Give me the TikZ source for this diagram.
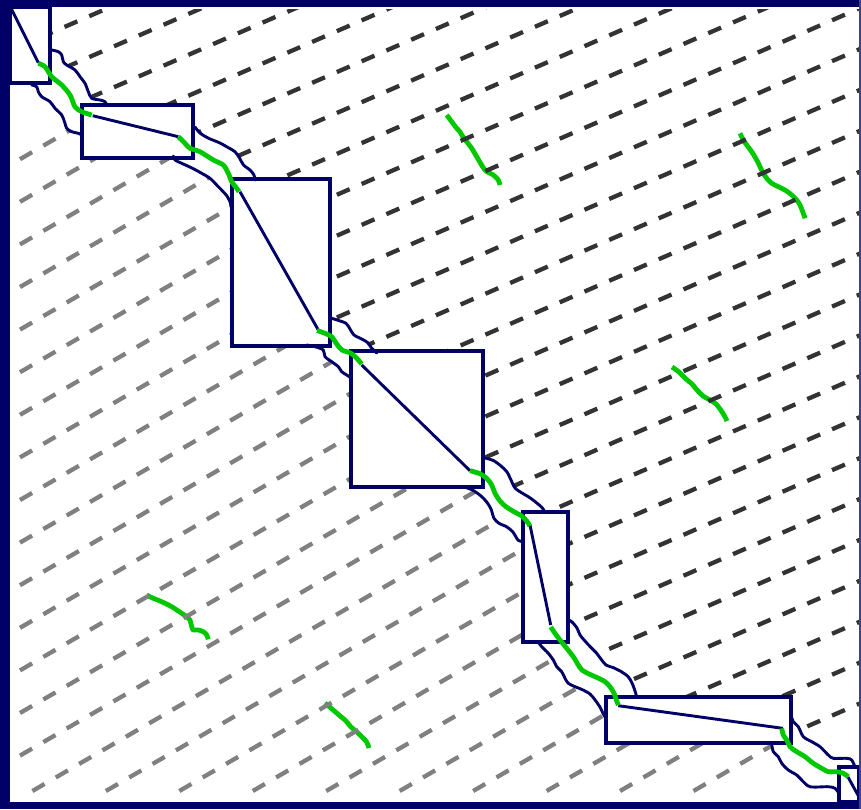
\documentclass[tikz,border=0pt]{standalone}
\definecolor{navy}{RGB}{0,0,102}
\definecolor{grn}{RGB}{0,200,0}
\definecolor{dk}{RGB}{51,51,51}
\definecolor{lg}{RGB}{128,128,128}
\tikzset{
  box/.style={draw=navy, line width=3.4pt},
  tube/.style={draw=navy, line width=2.9pt, line join=round, line cap=round},
  diag/.style={draw=navy, line width=2.9pt},
  gline/.style={draw=grn, line width=4.8pt, line join=round},
  dkdash/.style={draw=dk, line width=4.3pt, dash pattern=on 14pt off 13pt},
  lgdash/.style={draw=lg, line width=4.3pt, dash pattern=on 14pt off 13pt},
  upA/.style={insert path={-- plot[smooth,tension=0.5] coordinates {(51.7,50) (58.3,51.7) (61.7,55) (63.3,61.7) (66.7,65) (75,70) (80,76.7) (85,83.3) (88.3,91.7) (91.7,98.3) (100,100) (105,101.7) (106.7,105)}}},
  loA/.style={insert path={-- plot[smooth,tension=0.5] coordinates {(31.7,85) (36.7,86.7) (38.3,91.7) (41.7,96.7) (50,101.7) (55,108.3) (61.7,115) (65,123.3) (66.7,128.3) (71.7,131.7) (78.3,133.3) (82,135)}}},
  upB/.style={insert path={-- plot[smooth,tension=0.5] coordinates {(195,127) (200,133) (208,138) (220,143) (228,147.5) (235,151.7) (239.5,158) (243.5,165) (250,170) (254,175) (255,180)}}},
  loB/.style={insert path={-- plot[smooth,tension=0.5] coordinates {(173.3,156) (175,160) (181.7,163.3) (192.5,168.3) (201.7,173.3) (210,178.3) (216.7,185) (222.5,191) (227,196) (230,201.7) (231,206) (232,210)}}},
  upC/.style={insert path={-- plot[smooth,tension=0.5] coordinates {(331.7,318.3) (338,320.3) (346,323.3) (350,329) (354,335) (361.7,339) (367.5,342.5) (371.5,348) (376.7,353)}}},
  loC/.style={insert path={-- plot[smooth,tension=0.5] coordinates {(306.7,345) (315,346.7) (323.3,350) (325,356.7) (331.7,361.7) (338.3,366.7) (341.7,371.7) (346.7,375) (351.7,378.3)}}},
  upD/.style={insert path={-- plot[smooth,tension=0.5] coordinates {(485,458) (493.3,460.5) (501,466) (507,472) (511,480) (515,488) (522,493) (528,496.5) (533,500) (538,504) (542,507.5) (545,512)}}},
  loD/.style={insert path={-- plot[smooth,tension=0.5] coordinates {(464,487) (472.5,490) (481,496) (486.7,502) (491,509) (494,518.3) (499,523.3) (506.5,526.7) (512.5,531.5) (516,537) (518.5,540.5) (523,541.7)}}},
  upE/.style={insert path={-- plot[smooth,tension=0.5] coordinates {(569,620) (572,622) (577,628) (580,635) (585,641) (590,646.5) (596,652.5) (601,659) (606,665) (613,667.5) (621,671.5) (628,676.5) (632,683) (635,691) (636.7,697)}}},
  loE/.style={insert path={-- plot[smooth,tension=0.5] coordinates {(538.3,642) (541.7,646.7) (548.3,653.3) (553.3,660) (556.7,666.7) (561.7,671.7) (565,678.3) (568.3,683.3) (575,686.7) (582,689.5) (590,694) (595.5,700.5) (600.5,708) (603.5,714.5) (606,718.3)}}},
  upF/.style={insert path={-- plot[smooth,tension=0.5] coordinates {(791,715) (793.3,721.7) (798.3,726.7) (803.3,736.7) (811.7,741.7) (820,746.7) (828.3,755) (833.3,758.3) (846.7,758.3) (851.7,760) (855,767)}}},
  loF/.style={insert path={-- plot[smooth,tension=0.5] coordinates {(771.7,744) (773.3,751.7) (778.3,756.7) (781.7,763.3) (788.3,770) (796.7,775) (801.7,780) (810,786.7) (828.3,786.7) (835,788.3) (839,793.3)}}}
}
\begin{document}
\begin{tikzpicture}[x=1pt,y=-1pt]
\useasboundingbox (0,0) rectangle (861,809);
\fill[white] (0,0) rectangle (861,809);

% free green squiggles
\draw[gline] plot[smooth,tension=0.5] coordinates {(446.7,115) (451.7,121.7) (456.7,128.3) (460,131.7) (461.7,135) (466.7,141.7) (471.7,148.3) (476.7,156.7) (485,170) (493.3,175) (498.3,180) (500,185)};
\draw[gline] plot[smooth,tension=0.5] coordinates {(740,133.3) (743.3,140) (746.7,145) (751.7,151.7) (756.7,160) (760,166.7) (763.3,173.3) (766.7,178.3) (771.7,183.3) (778.3,186.7) (785,190) (791.7,195) (796.7,200) (800,205) (803.3,213.3) (805,218.3)};
\draw[gline] plot[smooth,tension=0.5] coordinates {(672,367) (679,372) (686,379) (692,384) (697,390) (703,396) (710,400) (716,404) (720,409) (724,415) (727,421)};
\draw[gline] plot[smooth,tension=0.5] coordinates {(146.7,595) (153.3,598.3) (161.7,601.7) (171.7,606.7) (176.7,610) (181.7,613.3) (186.7,616.7) (190,620) (191.7,626.7) (193.3,630) (198.3,630) (203.3,631.7) (206.7,635) (208.3,639.3)};
\draw[gline] plot[smooth,tension=0.5] coordinates {(325,703) (332,709) (339,715) (346,721) (351,727) (357,732) (362,737) (366,741) (368,745) (369,748)};

% dark dashed family (upper right)
\begin{scope}
\clip (50,9) -- (50,50) [upA] -- (193,105) -- (193,127) [upB] -- (330,179) -- (330,318.3) [upC] -- (483,351) -- (483,458) [upD] -- (568,512) -- (568,620) [upE] -- (791,697) -- (791,715) [upF] -- (859,767) -- (859,9) -- cycle;
\foreach \k in {0,...,25}{
  \pgfmathsetmacro{\dc}{55+40.9*\k}
  \draw[dkdash] (15,{\dc-0.435*15}) -- (870,{\dc-0.435*870});
}
\end{scope}

% grey dashed family (lower left)
\begin{scope}
\clip (8,83) -- (31.7,83) [loA] -- (82,158) -- (173.3,158) [loB] -- (232,346) -- (306.7,346) [loC] -- (351,487) -- (464,487) [loD] -- (523,642) -- (538.3,642) [loE] -- (606,743) -- (771.7,743) [loF] -- (839,805) -- (8,805) -- cycle;
\foreach \k in {0,...,24}{
  \pgfmathsetmacro{\gb}{170.8+42.6*\k}
  \pgfmathsetmacro{\gx}{max(20,(\gb-791)/0.58)}
  \draw[lgdash] (\gx,{\gb-0.58*\gx}) -- (900,{\gb-0.58*900});
}
\end{scope}

% tube walls
\draw[tube] (51.7,50) [upA];
\draw[tube] (31.7,85) [loA];
\draw[tube] (195,127) [upB];
\draw[tube] (173.3,156) [loB];
\draw[tube] (331.7,318.3) [upC];
\draw[tube] (306.7,345) [loC];
\draw[tube] (485,458) [upD];
\draw[tube] (464,487) [loD];
\draw[tube] (569,620) [upE];
\draw[tube] (538.3,642) [loE];
\draw[tube] (791,715) [upF];
\draw[tube] (771.7,744) [loF];

% boxes
\draw[box] (10,7) rectangle (50,83);
\draw[box] (82,105) rectangle (193,158);
\draw[box] (232,179) rectangle (330,346);
\draw[box] (351,351) rectangle (483,487);
\draw[box] (523,512) rectangle (568,642);
\draw[box] (606,697) rectangle (791,743);
\draw[box] (839,767) rectangle (859,802);

% diagonals inside boxes
\draw[diag] (11,8) -- (38.3,62.7);
\draw[diag] (92.7,115.7) -- (178.3,136.7);
\draw[diag] (240,191.7) -- (318.3,330);
\draw[diag] (361.7,365) -- (470,470.7);
\draw[diag] (530,525) -- (550.7,625);
\draw[diag] (618.3,705.7) -- (782.7,728.3);
\draw[diag] (848,777) -- (859,797);

% green chain segments
\draw[gline] plot[smooth,tension=0.5] coordinates {(38.3,63.3) (45,66.7) (51.7,76.7) (61.7,85) (70,95) (75,106.7) (81.7,111.7) (91.7,115)};
\draw[gline] plot[smooth,tension=0.5] coordinates {(178.3,136.7) (185,143.3) (190,148.3) (200,151.7) (213.3,160) (223.3,165) (228.3,173.3) (231.7,181.7) (236.7,188.3) (239,191.7)};
\draw[gline] plot[smooth,tension=0.5] coordinates {(317,330.5) (325,333.3) (331.7,336.7) (336.7,344) (342,350) (350.5,353) (356,357.5) (361.7,364)};
\draw[gline] plot[smooth,tension=0.5] coordinates {(470,470.7) (480,473.7) (486.7,478.3) (491.7,485) (495,493.3) (500,501) (506,506.7) (514,511.7) (521.7,516) (526.7,521) (530,526)};
\draw[gline] plot[smooth,tension=0.5] coordinates {(550.7,627) (555,633.3) (560,640) (566.7,648.3) (573.3,656.7) (578.3,665) (582,670) (589,674) (597,677.5) (605,681.7) (610,686.7) (614,693.3) (616.7,701) (618.3,705)};
\draw[gline] plot[smooth,tension=0.5] coordinates {(781.7,728.3) (783.3,735) (786.7,740) (790,746.7) (796.7,751.7) (805,756.7) (813.3,763.3) (821.7,768.3) (828.3,771.7) (836.7,771.7) (843.3,773.3) (848.3,776.7)};

% frame
\fill[navy] (0,0) rectangle (10,809);
\fill[navy] (0,0) rectangle (861,7);
\fill[navy] (0,802) rectangle (861,809);
\draw[navy!75, line width=1.5pt] (860.2,0) -- (860.2,809);
\end{tikzpicture}
\end{document}
